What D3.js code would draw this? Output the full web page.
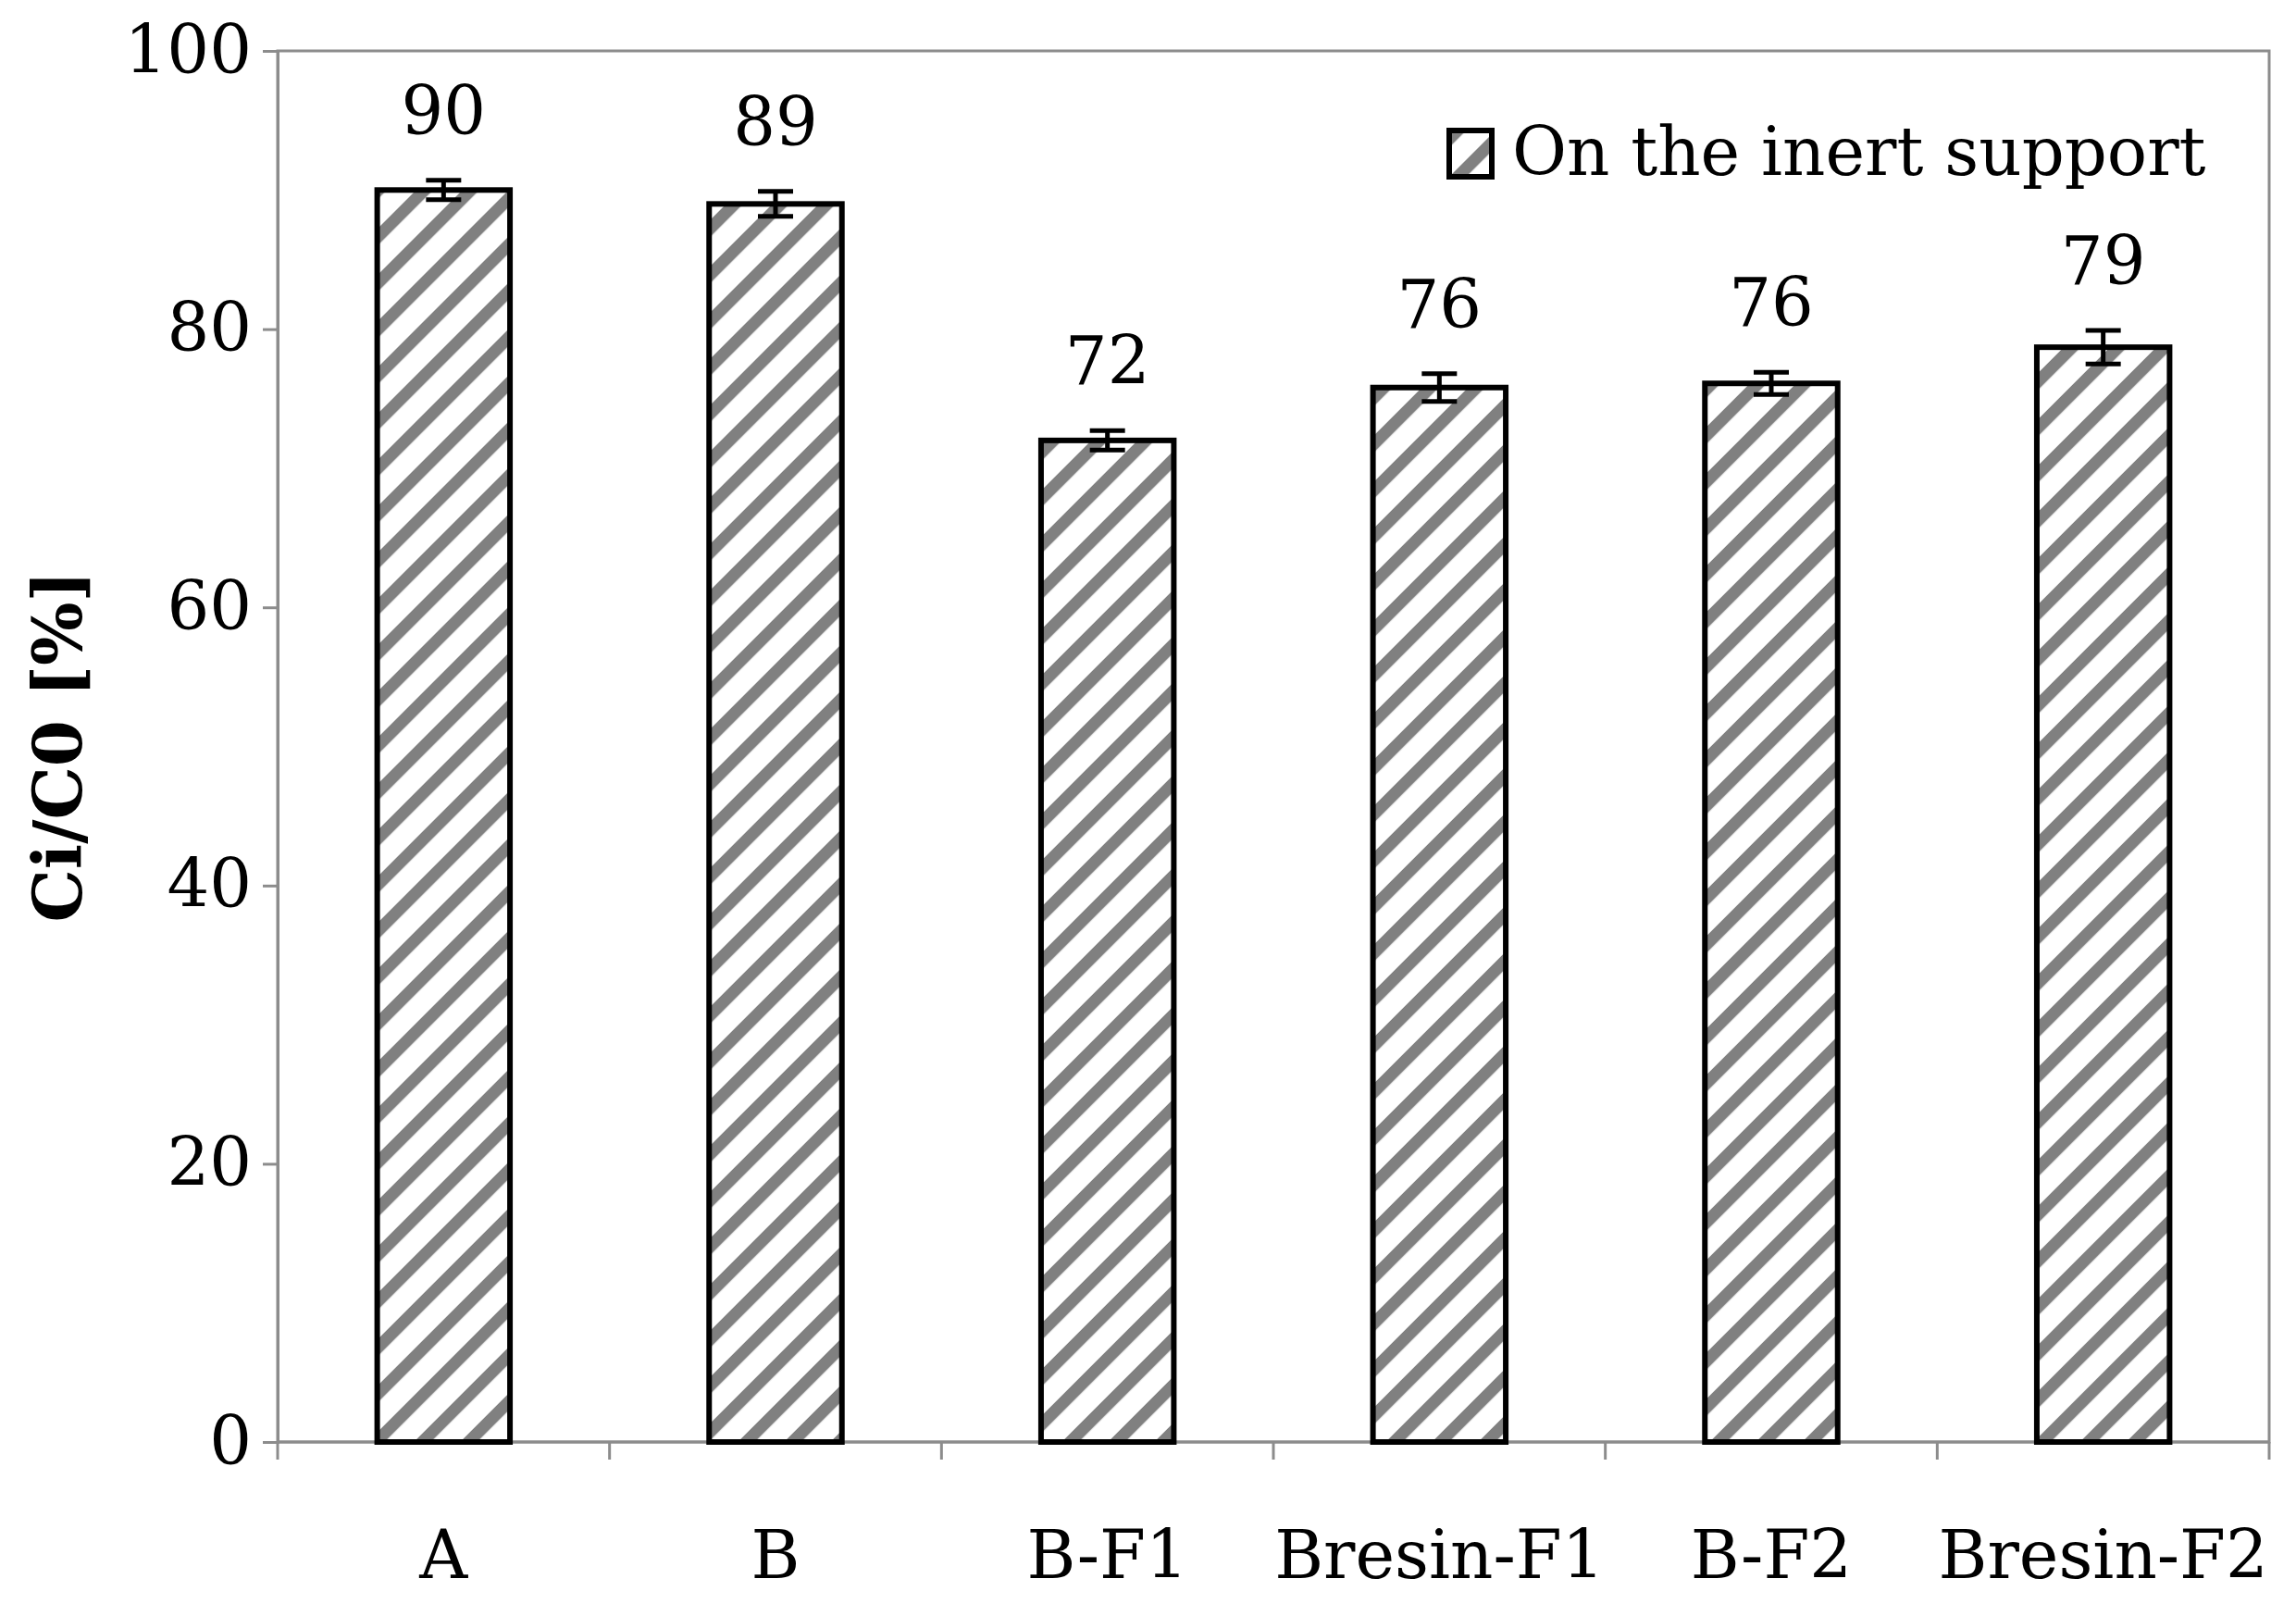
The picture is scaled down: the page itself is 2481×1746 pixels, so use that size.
<!DOCTYPE html>
<html><head><meta charset="utf-8">
<script src="https://cdn.jsdelivr.net/npm/d3@7"></script>
<style>body{margin:0;background:#fff}</style>
</head><body><div id="chart"></div>
<script>
// Chart data
var categories = ["A", "B", "B-F1", "Bresin-F1", "B-F2", "Bresin-F2"];
var values = [90, 89, 72, 75.8, 76.1, 78.7];
var errors = [0.7, 0.9, 0.7, 1.0, 0.8, 1.2];
var labels = ["90", "89", "72", "76", "76", "79"];
var yTicks = [0, 20, 40, 60, 80, 100];

var W = 2481, H = 1746;
var margin = {top: 55, right: 29, bottom: 188, left: 300};
var width = W - margin.left - margin.right,
    height = H - margin.top - margin.bottom;
var font = "'DejaVu Serif', 'Liberation Serif', serif";
var fs = 72;

var svg = d3.select("#chart").append("svg")
    .attr("width", W).attr("height", H);

// hatch pattern
var defs = svg.append("defs");
[["hatch", 35.36], ["hatch2", 35.36]].forEach(function(p) {
    var pat = defs.append("pattern")
        .attr("id", p[0]).attr("patternUnits", "userSpaceOnUse")
        .attr("width", p[1]).attr("height", p[1])
        .attr("patternTransform", "rotate(45)");
    pat.append("rect").attr("width", p[1]).attr("height", p[1]).attr("fill", "#fff");
    pat.append("rect").attr("width", 13).attr("height", p[1]).attr("fill", "#808080");
});

var g = svg.append("g")
    .attr("transform", "translate(" + margin.left + "," + margin.top + ")");

var x = d3.scaleBand().domain(categories).range([0, width]).paddingInner(0.6).paddingOuter(0.3);
var xb = d3.scaleBand().domain(categories).range([0, width]);
var y = d3.scaleLinear().domain([0, 100]).range([height, 0]);

// frame
g.append("rect").attr("width", width).attr("height", height)
    .attr("fill", "none").attr("stroke", "#8c8c8c").attr("stroke-width", 3);

// y axis
var yAxis = g.append("g").call(d3.axisLeft(y).tickValues(yTicks).tickSize(16).tickPadding(12));
yAxis.select(".domain").attr("stroke", "#8c8c8c").attr("stroke-width", 3);
yAxis.selectAll(".tick line").attr("stroke", "#8c8c8c").attr("stroke-width", 3);
yAxis.selectAll("text").attr("font-family", font).attr("font-size", fs).attr("fill", "#000");

// x axis with ticks at category boundaries
var xAxis = g.append("g").attr("transform", "translate(0," + height + ")");
xAxis.append("line").attr("x1", 0).attr("x2", width).attr("stroke", "#8c8c8c").attr("stroke-width", 3);
var bounds = categories.map(function(c) { return xb(c); }).concat([width]);
xAxis.selectAll(".bt").data(bounds).enter().append("line")
    .attr("x1", function(d) { return d; }).attr("x2", function(d) { return d; })
    .attr("y1", 0).attr("y2", 19).attr("stroke", "#8c8c8c").attr("stroke-width", 3);
xAxis.selectAll(".xl").data(categories).enter().append("text")
    .attr("x", function(d) { return xb(d) + xb.bandwidth() / 2; })
    .attr("y", 147).attr("text-anchor", "middle")
    .attr("font-family", font).attr("font-size", fs).text(function(d) { return d; });

// bars
g.selectAll(".bar").data(categories).enter().append("rect")
    .attr("x", function(d) { return x(d); })
    .attr("y", function(d, i) { return y(values[i]); })
    .attr("width", x.bandwidth())
    .attr("height", function(d, i) { return height - y(values[i]); })
    .attr("fill", "url(#hatch)").attr("stroke", "#000").attr("stroke-width", 6);

// error bars
var eb = g.selectAll(".err").data(categories).enter().append("g")
    .attr("stroke", "#000").attr("stroke-width", 5);
eb.append("line")
    .attr("x1", function(d) { return x(d) + x.bandwidth() / 2; })
    .attr("x2", function(d) { return x(d) + x.bandwidth() / 2; })
    .attr("y1", function(d, i) { return y(values[i] - errors[i]); })
    .attr("y2", function(d, i) { return y(values[i] + errors[i]); });
[-1, 1].forEach(function(s) {
    eb.append("line")
        .attr("x1", function(d) { return x(d) + x.bandwidth() / 2 - 19; })
        .attr("x2", function(d) { return x(d) + x.bandwidth() / 2 + 19; })
        .attr("y1", function(d, i) { return y(values[i] + s * errors[i]); })
        .attr("y2", function(d, i) { return y(values[i] + s * errors[i]); });
});

// value labels
g.selectAll(".vl").data(categories).enter().append("text")
    .attr("x", function(d) { return x(d) + x.bandwidth() / 2; })
    .attr("y", function(d, i) { return y(values[i] + errors[i]) - 50; })
    .attr("text-anchor", "middle").attr("font-family", font).attr("font-size", fs)
    .text(function(d, i) { return labels[i]; });

// y title
svg.append("text")
    .attr("transform", "translate(88," + (margin.top + height / 2) + ") rotate(-90)")
    .attr("text-anchor", "middle").attr("font-family", font).attr("font-size", fs)
    .attr("font-weight", "bold").text("Ci/C0 [%]");

// legend
var lg = svg.append("g").attr("transform", "translate(1566,141)");
lg.append("rect").attr("width", 46).attr("height", 50)
    .attr("fill", "url(#hatch2)").attr("stroke", "#000").attr("stroke-width", 6);
lg.append("text").attr("x", 68).attr("y", 48)
    .attr("font-family", font).attr("font-size", fs).text("On the inert support");
</script>
</body></html>
